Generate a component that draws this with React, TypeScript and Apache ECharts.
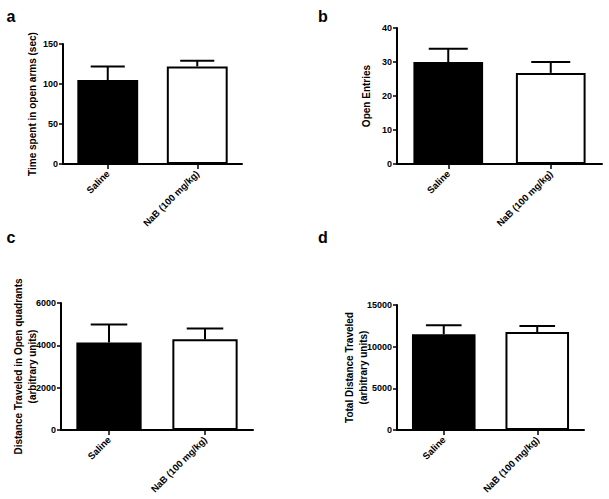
import React, { useEffect, useRef } from "react";
import * as echarts from "echarts";

const categories = ["Saline", "NaB (100 mg/kg)"];

const timeOpenArms = [105, 122];
const timeOpenArmsErr = [17, 7];

const openEntries = [30, 26.8];
const openEntriesErr = [3.9, 3.2];

const distOpen = [4130, 4290];
const distOpenErr = [860, 500];

const totalDist = [11480, 11750];
const totalDistErr = [1080, 720];

const panelLetters = ["a", "b", "c", "d"];
const yTitles = [
  "Time spent in open arms (sec)",
  "Open Entries",
  "Distance Traveled in Open quadrants\n(arbitrary units)",
  "Total Distance Traveled\n(arbitrary units)",
];
const yMax = [150, 40, 6000, 15000];
const yInterval = [50, 10, 2000, 5000];

const FONT = "'Liberation Sans', Arial, Helvetica, sans-serif";
const barColors = ["#000000", "#ffffff"];

export default function App() {
  const ref = useRef<HTMLDivElement>(null);

  useEffect(() => {
    if (!ref.current) return;
    const chart = echarts.init(ref.current, null, { renderer: "svg" });

    const grids = [
      { left: 63, top: 44, width: 179, height: 120 },
      { left: 397, top: 28, width: 205, height: 136 },
      { left: 61, top: 303, width: 192, height: 127 },
      { left: 397, top: 305, width: 187, height: 125 },
    ];
    const nameGaps = [24, 24, 22, 27];
    const means = [timeOpenArms, openEntries, distOpen, totalDist];
    const errs = [timeOpenArmsErr, openEntriesErr, distOpenErr, totalDistErr];

    const xAxis = grids.map((_, i) => ({
      type: "category",
      gridIndex: i,
      data: categories,
      axisLine: { show: true, lineStyle: { color: "#000", width: 2 } },
      axisTick: { show: true, alignWithLabel: true, length: 5, lineStyle: { color: "#000", width: 1.5 } },
      axisLabel: {
        rotate: 45,
        margin: 8,
        color: "#000",
        fontFamily: FONT,
        fontWeight: "bold",
        fontSize: 9.5,
      },
      splitLine: { show: false },
    }));

    const yAxis = grids.map((_, i) => ({
      type: "value",
      gridIndex: i,
      min: 0,
      max: yMax[i],
      interval: yInterval[i],
      name: yTitles[i],
      nameLocation: "middle",
      nameRotate: 90,
      nameGap: nameGaps[i],
      nameMoveOverlap: false,
      nameTextStyle: {
        color: "#000",
        fontFamily: FONT,
        fontWeight: "bold",
        fontSize: 10,
        lineHeight: 14,
      },
      axisLine: { show: true, lineStyle: { color: "#000", width: 2 } },
      axisTick: { show: true, length: 4, lineStyle: { color: "#000", width: 1.5 } },
      axisLabel: {
        margin: 5,
        color: "#000",
        fontFamily: FONT,
        fontWeight: "bold",
        fontSize: 9,
        formatter: (v: number) => String(v),
      },
      splitLine: { show: false },
    }));

    const series: any[] = [];
    grids.forEach((_, i) => {
      series.push({
        type: "bar",
        xAxisIndex: i,
        yAxisIndex: i,
        barWidth: "68%",
        data: means[i].map((v, j) => ({
          value: v,
          itemStyle: { color: barColors[j], borderColor: "#000", borderWidth: 2 },
        })),
        z: 2,
      });
      series.push({
        type: "custom",
        xAxisIndex: i,
        yAxisIndex: i,
        z: 3,
        data: means[i].map((v, j) => [j, v, v + errs[i][j]]),
        renderItem: (params: any, api: any) => {
          const x = api.value(0);
          const lo = api.coord([x, api.value(1)]);
          const hi = api.coord([x, api.value(2)]);
          const band = api.size([1, 0])[0];
          const half = band * 0.68 * 0.28;
          const style = { stroke: "#000", lineWidth: 2 };
          return {
            type: "group",
            children: [
              { type: "line", shape: { x1: lo[0], y1: lo[1], x2: hi[0], y2: hi[1] }, style },
              { type: "line", shape: { x1: hi[0] - half, y1: hi[1], x2: hi[0] + half, y2: hi[1] }, style },
            ],
          };
        },
      });
    });

    const letterPos = [
      [11, 16],
      [323, 16],
      [11, 237],
      [323, 237],
    ];

    chart.setOption({
      animation: false,
      backgroundColor: "#ffffff",
      grid: grids,
      xAxis,
      yAxis,
      series,
      graphic: panelLetters.map((t, i) => ({
        type: "text",
        x: letterPos[i][0],
        y: letterPos[i][1],
        style: {
          text: t,
          fontFamily: FONT,
          fontWeight: "bold",
          fontSize: 16,
          fill: "#000",
          textAlign: "center",
          textVerticalAlign: "middle",
        },
      })),
    });

    return () => chart.dispose();
  }, []);

  return (
    <div
      ref={ref}
      style={{ position: "fixed", left: 0, top: 0, width: 609, height: 499, background: "#fff" }}
    />
  );
}
